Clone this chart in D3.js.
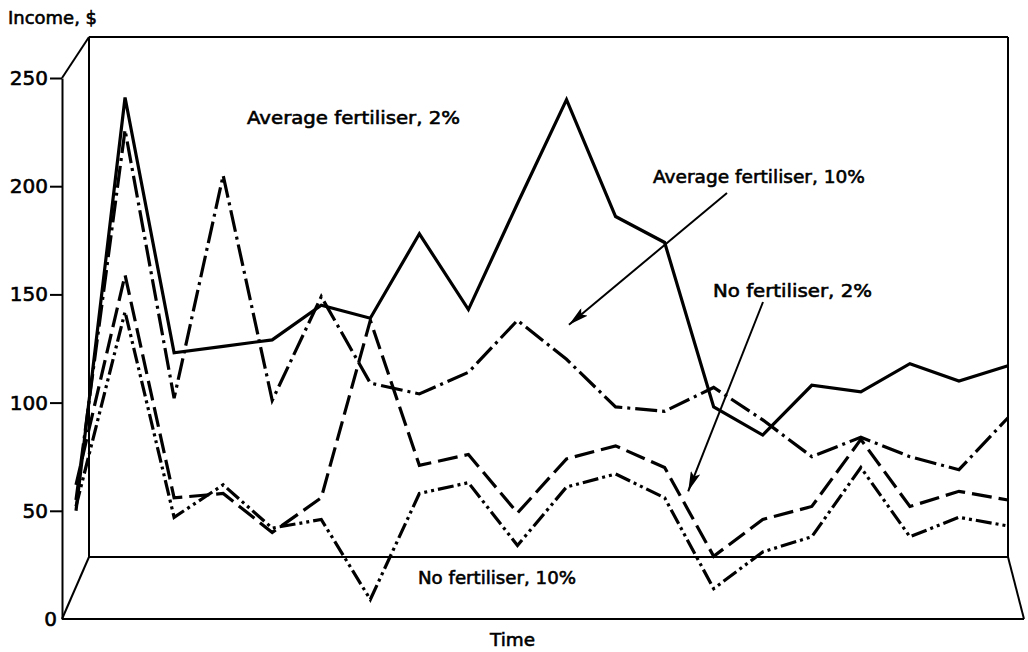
<!DOCTYPE html>
<html>
<head>
<meta charset="utf-8">
<script src="https://cdn.jsdelivr.net/npm/d3@7"></script>
<style>
  html, body { margin: 0; padding: 0; background: #fff; }
  svg { display: block; }
  text { font-family: "DejaVu Sans", "Liberation Sans", sans-serif; fill: #000; stroke: #000; stroke-width: 0.6px; }
</style>
</head>
<body>
<svg id="chart" width="1028" height="652"></svg>
<script>
// Time periods along the horizontal axis
const periods = [0, 1, 2, 3, 4, 5, 6, 7, 8, 9, 10, 11, 12, 13, 14, 15, 16, 17, 18, 19];

// Income ($) per period for each scenario
const avgFert2  = [50, 241, 123, 126, 129, 145, 139, 178, 143, 192, 240, 186, 174, 98, 85, 108, 105, 118, 110, 117];
const avgFert10 = [55, 226, 102, 205, 101, 149, 109, 104, 114, 138, 120, 98, 96, 107, 92, 75, 84, 75, 69, 93];
const noFert2   = [62, 159, 56, 58, 40, 56, 138, 71, 76, 49, 74, 80, 70, 29, 46, 52, 83, 52, 59, 55];
const noFert10  = [52, 142, 47, 62, 42, 46, 9, 58, 63, 34, 61, 67, 56, 14, 31, 38, 70, 38, 47, 43];

const yTicks = [0, 50, 100, 150, 200, 250];
const seriesNames = ["Average fertiliser, 2%", "Average fertiliser, 10%", "No fertiliser, 2%", "No fertiliser, 10%"];

const svg = d3.select("#chart");

// Front axis and back panel of the box
const front = { x: 62, bottom: 619, top: 78 };
const back = { left: 89, right: 1008, top: 37, bottom: 557 };
const floorRight = 1024;

const y = d3.scaleLinear().domain([0, 250]).range([front.bottom, front.top]);
const x = d3.scaleLinear().domain([0, 19]).range([76, back.right]);

// Box outline
const frame = svg.append("g").attr("fill", "none").attr("stroke", "#000").attr("stroke-width", 2);
const seg = (x1, y1, x2, y2) => frame.append("line").attr("x1", x1).attr("y1", y1).attr("x2", x2).attr("y2", y2);
seg(front.x, front.top, back.left, back.top);
seg(back.left, back.top, back.right, back.top);
seg(back.left, back.top, back.left, back.bottom);
seg(back.right, back.top, back.right, back.bottom);
seg(back.left, back.bottom, back.right, back.bottom);
seg(front.x, front.bottom, back.left, back.bottom);
seg(back.right, back.bottom, floorRight, front.bottom);
seg(front.x, front.bottom, floorRight, front.bottom);

// Income axis
const axis = svg.append("g")
  .attr("transform", `translate(${front.x},0)`)
  .call(d3.axisLeft(y).tickValues(yTicks).tickSizeInner(12).tickSizeOuter(0).tickPadding(2));
axis.select(".domain").attr("stroke", "#000").attr("stroke-width", 2);
axis.selectAll(".tick line").attr("stroke", "#000").attr("stroke-width", 2);
axis.selectAll(".tick text")
  .style("font-family", "'DejaVu Sans', sans-serif")
  .style("font-size", "20px")
  .attr("fill", "#000");
axis.selectAll(".tick").filter(d => d === 0).select("line").remove();
axis.selectAll(".tick").filter(d => d === 0).select("text").attr("x", -5);

svg.append("text").attr("x", 8).attr("y", 24)
  .attr("font-size", 18).attr("textLength", 89).attr("lengthAdjust", "spacingAndGlyphs")
  .text("Income, $");

// Series lines
const series = [
  { name: seriesNames[0], values: avgFert2,  dash: null },
  { name: seriesNames[1], values: avgFert10, dash: "22,5,3,5" },
  { name: seriesNames[2], values: noFert2,   dash: "20,7" },
  { name: seriesNames[3], values: noFert10,  dash: "16,4,3,4,3,4" }
];

const line = d3.line().x((d, i) => x(periods[i])).y(d => y(d));

svg.append("g").selectAll("path").data(series).join("path")
  .attr("d", d => line(d.values))
  .attr("fill", "none")
  .attr("stroke", "#000")
  .attr("stroke-width", 3.2)
  .attr("stroke-linejoin", "miter")
  .attr("stroke-dasharray", d => d.dash);

// Arrow marker for callouts
svg.append("defs").append("marker")
  .attr("id", "head")
  .attr("viewBox", "0 0 20 10")
  .attr("refX", 20).attr("refY", 5)
  .attr("markerWidth", 20).attr("markerHeight", 10)
  .attr("markerUnits", "userSpaceOnUse")
  .attr("orient", "auto")
  .append("path").attr("d", "M0,0 L20,5 L0,10 L4,5 Z").attr("fill", "#000");

// Series labels
const labelStyle = t => t.attr("font-size", 18).attr("lengthAdjust", "spacingAndGlyphs");
labelStyle(svg.append("text")).attr("x", 247).attr("y", 124).attr("textLength", 213).text(seriesNames[0]);
labelStyle(svg.append("text")).attr("x", 653).attr("y", 183).attr("textLength", 212).text(seriesNames[1]);
labelStyle(svg.append("text")).attr("x", 713).attr("y", 297).attr("textLength", 159).text(seriesNames[2]);
labelStyle(svg.append("text")).attr("x", 418).attr("y", 584).attr("textLength", 158).text(seriesNames[3]);
labelStyle(svg.append("text")).attr("x", 490).attr("y", 646).attr("textLength", 45).text("Time");

// Callout arrows pointing at the middle two series
const arrows = svg.append("g").attr("stroke", "#000").attr("stroke-width", 2);
arrows.append("line").attr("x1", 727).attr("y1", 193).attr("x2", x(10.05)).attr("y2", y(136))
  .attr("marker-end", "url(#head)");
arrows.append("line").attr("x1", 763).attr("y1", 302).attr("x2", x(12.48)).attr("y2", y(59))
  .attr("marker-end", "url(#head)");
</script>
</body>
</html>
